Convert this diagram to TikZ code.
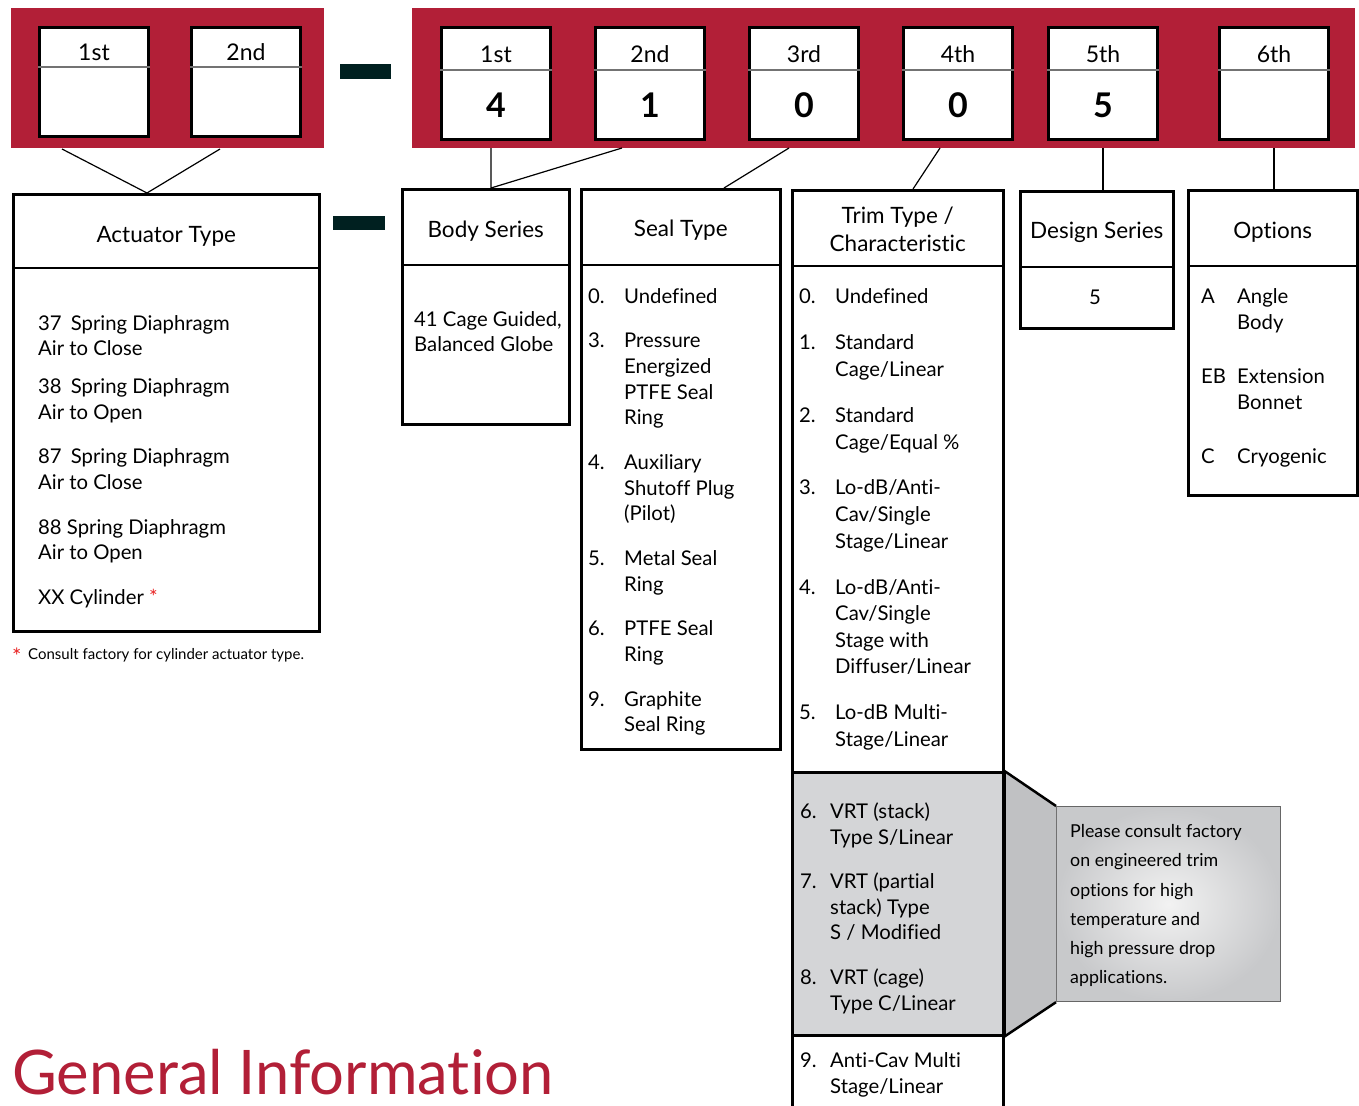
\documentclass[tikz,border=0pt]{standalone}
\usepackage{fontspec}
\setmainfont{Lato}[Ligatures=NoCommon]
\usepackage{tikz}
\usetikzlibrary{positioning}
\definecolor{geRed}{RGB}{178,31,55}
\definecolor{dashDark}{RGB}{0,32,32}
\definecolor{trimGray}{RGB}{212,213,215}
\definecolor{flapGray}{RGB}{192,193,195}
\definecolor{noteEdge}{RGB}{200,201,203}
\definecolor{starRed}{RGB}{232,32,32}
\tikzstyle{redband} = [rectangle, fill=geRed, anchor=north west, inner sep=0pt]
\tikzstyle{digit} = [rectangle, draw, line width=3pt, fill=white, minimum width=109pt, minimum height=110pt, anchor=north west, inner sep=0pt]
\tikzstyle{divider} = [line width=1.5pt, draw=black!55]
\tikzstyle{codebox} = [rectangle, draw, line width=2.5pt, anchor=north west, inner sep=0pt]
\tikzstyle{head} = [font=\fontsize{22.5}{28}\selectfont, align=center, inner sep=0pt]
\tikzstyle{entry} = [font=\fontsize{20.3}{24}\selectfont, anchor=base west, inner sep=0pt]
\tikzstyle{small} = [font=\fontsize{17.8}{20}\selectfont, anchor=base west, inner sep=0pt]
\tikzstyle{link} = [line width=1.2pt]
\tikzstyle{minusbar} = [fill=dashDark, inner sep=0pt]

\begin{document}
\begin{tikzpicture}[x=1pt, y=-1pt]
\clip (0,0) rectangle (1359,1105);

% Code bands
\node (bandA) [redband, minimum width=313pt, minimum height=140pt] at (11,8) {};
\node (bandB) [redband, minimum width=943pt, minimum height=140pt] at (412,8) {};

\foreach \x/\pos [count=\i] in {38/1st, 190/2nd} {
    \node (a\i) [digit, minimum height=109pt] at (\x,26) {};
    \draw [divider] ([yshift=-41pt]a\i.north west) -- ([yshift=-41pt]a\i.north east);
    \node [font=\fontsize{23}{26}\selectfont] at ([yshift=-26pt]a\i.north) {\pos};
}
\foreach \x/\pos/\val [count=\i] in {440/1st/4, 594/2nd/1, 748/3rd/0, 902/4th/0, 1047/5th/5, 1218/6th/{}} {
    \node (d\i) [digit, minimum height=112pt] at (\x,26) {};
    \draw [divider] ([yshift=-44pt]d\i.north west) -- ([yshift=-44pt]d\i.north east);
    \node [font=\fontsize{23}{26}\selectfont] at ([yshift=-28pt]d\i.north) {\pos};
    \node [font=\fontsize{34}{38}\selectfont\bfseries] at ([yshift=-79pt]d\i.north) {\val};
}

\node (dashA) [minusbar, minimum width=51pt, minimum height=15pt] at (365.5,72) {};
\node (dashB) [minusbar, minimum width=52pt, minimum height=14pt] at (359,223) {};

% Boxes
\node (act) [codebox, minimum width=306pt, minimum height=437pt] at (12,193) {};
\node (body) [codebox, minimum width=167pt, minimum height=235pt] at (401,188) {};
\node (seal) [codebox, minimum width=199pt, minimum height=560pt] at (580,188) {};
\node (trim) [codebox, minimum width=211pt, minimum height=940pt] at (791,189) {};
\node (design) [codebox, minimum width=153pt, minimum height=137pt] at (1019,190) {};
\node (opts) [codebox, minimum width=169pt, minimum height=305pt] at (1187,189) {};

\draw [line width=1.2pt] ([yshift=-75pt]act.north west) -- ([yshift=-75pt]act.north east);
\foreach \b in {body, seal, trim, design, opts}
    \draw [line width=2.5pt] ([yshift=-77pt]\b.north west) -- ([yshift=-77pt]\b.north east);

\node [head] at ([yshift=-43pt]act.north) {Actuator Type};
\node [head] at ([yshift=-43pt]body.north) {Body Series};
\node [head] at ([yshift=-42pt]seal.north) {Seal Type};
\node [head] at ([yshift=-40pt]trim.north) {Trim Type /\\Characteristic};
\node [head] at ([yshift=-42pt]design.north) {Design Series};
\node [head] at ([yshift=-43pt]opts.north) {Options};

% Connectors
\coordinate (aL) at (62,149);
\coordinate (aR) at (220,149);
\coordinate (aM) at (147,193);
\coordinate (b1) at (491,148);
\coordinate (b2) at (622,148);
\coordinate (bM) at (491,188);
\coordinate (s3) at (789,148);
\coordinate (sM) at (724,188);
\coordinate (t4) at (940,148);
\coordinate (tM) at (913,189);
\draw [link] (aL) -- (aM) -- (aR);
\draw [link] (b1) -- (bM) -- (b2);
\draw [link] (s3) -- (sM);
\draw [link] (t4) -- (tM);
\draw [link] (d5.south |- bandB.south) -- (d5.south |- design.north);
\draw [link] (d6.south |- bandB.south) -- (d6.south |- opts.north);

% Actuator type
\foreach \y/\t in {323/{37\hspace{0.45em}Spring Diaphragm}, 348/{Air to Close}, 386/{38\hspace{0.45em}Spring Diaphragm}, 412/{Air to Open}, 456/{87\hspace{0.45em}Spring Diaphragm}, 482/{Air to Close}, 527/{88 Spring Diaphragm}, 552/{Air to Open}, 597/{XX Cylinder \textcolor{starRed}{*}}}
    \node [entry] at (38,\y+7) {\t};
\node (star) [small, text=starRed, font=\fontsize{22}{22}\selectfont] at (12,664) {*};
\node (foot) [small, font=\fontsize{15}{18}\selectfont] at (28,659) {Consult factory for cylinder actuator type.};

% Body series
\node [entry] at (414,326) {41 Cage Guided,};
\node [entry] at (414,351) {Balanced Globe};

% Seal type
\foreach \y/\n/\t in {296/0./{Undefined}, 340/3./{Pressure}, 366//{Energized}, 392//{PTFE Seal}, 417//{Ring}, 462/4./{Auxiliary}, 488//{Shutoff Plug}, 513//{(Pilot)}, 558/5./{Metal Seal}, 584//{Ring}, 628/6./{PTFE Seal}, 654//{Ring}, 699/9./{Graphite}, 724//{Seal Ring}} {
    \node [entry] at (588,\y+7) {\n};
    \node [entry] at (624,\y+7) {\t};
}

% Trim type
\node (trimgray) [codebox, fill=trimGray, minimum width=211pt, minimum height=263pt] at (791,771) {};
\node (note) [draw=black!60, line width=1.2pt, inner sep=0pt, anchor=north west, minimum width=224pt, minimum height=195pt, inner color=white!95!black, outer color=noteEdge, shading=radial] at (1056,806) {};
\fill [flapGray] (trimgray.north east) -- (note.north west) -- (note.south west) -- (trimgray.south east) -- cycle;
\draw [line width=2.5pt] (trimgray.north east) -- (note.north west);
\draw [line width=2.5pt] (trimgray.south east) -- (note.south west);
\draw [line width=2.5pt] (trimgray.north east) -- (trimgray.south east);

\foreach \y/\n/\t in {296/0./{Undefined}, 342/1./{Standard}, 369//{Cage/Linear}, 415/2./{Standard}, 442//{Cage/Equal \%}, 487/3./{Lo-dB/Anti-}, 514//{Cav/Single}, 541//{Stage/Linear}, 587/4./{Lo-dB/Anti-}, 613//{Cav/Single}, 640//{Stage with}, 666//{Diffuser/Linear}, 712/5./{Lo-dB Multi-}, 739//{Stage/Linear}} {
    \node [entry] at (799,\y+7) {\n};
    \node [entry] at (835,\y+7) {\t};
}
\foreach \y/\n/\t in {811/6./{VRT (stack)}, 837//{Type S/Linear}, 881/7./{VRT (partial}, 907//{stack) Type}, 932//{S / Modified}, 977/8./{VRT (cage)}, 1003//{Type C/Linear}, 1060/9./{Anti-Cav Multi}, 1086//{Stage/Linear}} {
    \node [entry] at (800,\y+7) {\n};
    \node [entry] at (830,\y+7) {\t};
}
\foreach \y/\t in {831/{Please consult factory}, 860/{on engineered trim}, 890/{options for high}, 919/{temperature and}, 948/{high pressure drop}, 977/{applications.}}
    \node [small] at (1070,\y+6) {\t};

% Design series and options
\node [entry, anchor=base] at (1095,304) {5};
\foreach \y/\n/\t in {296/A/{Angle}, 322//{Body}, 376/EB/{Extension}, 402//{Bonnet}, 456/C/{Cryogenic}} {
    \node [entry] at (1201,\y+7) {\n};
    \node [entry] at (1237,\y+7) {\t};
}

\node (title) [anchor=base west, inner sep=0pt, text=geRed, font=\fontsize{61.5}{66}\selectfont] at (12,1094) {General Information};

\end{tikzpicture}
\end{document}
